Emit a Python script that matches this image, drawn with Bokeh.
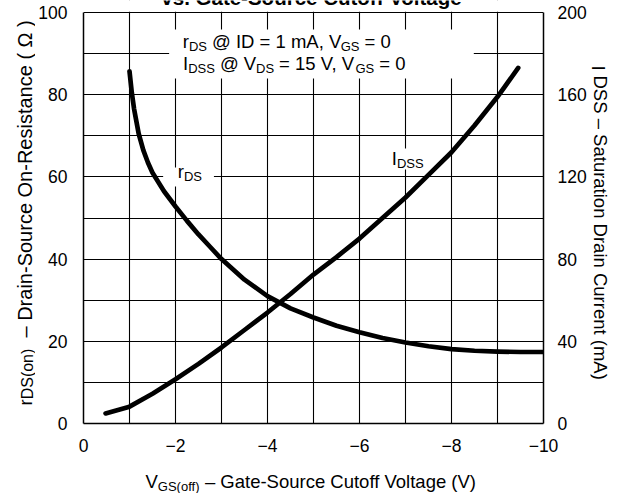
import math
from bokeh.plotting import figure
from bokeh.layouts import column, row
from bokeh.models import Range1d, LinearAxis, FixedTicker, CustomJSTickFormatter, Label
from bokeh.embed import file_html
from bokeh.resources import INLINE

# ---------------- data ----------------
vgs_rds = [-1.0, -1.05, -1.1, -1.2, -1.3, -1.4, -1.5, -1.75, -2.0, -2.25, -2.5, -2.75, -3.0,
           -3.5, -4.0, -4.5, -5.0, -5.5, -6.0, -6.5, -7.0, -7.5, -8.0, -8.5, -9.0, -9.5, -10.0]
rds_ohm = [85.7, 80.5, 76.5, 70.5, 66.5, 63.5, 61.0, 56.5, 52.8, 49.3, 46.0, 43.0, 40.0,
           35.0, 31.0, 28.0, 25.8, 23.8, 22.2, 20.8, 19.7, 18.8, 18.1, 17.7, 17.5, 17.4, 17.4]
vgs_idss = [-0.48, -1.0, -1.5, -2.0, -2.5, -3.0, -3.5, -4.0, -4.5, -5.0, -5.5, -6.0,
            -6.5, -7.0, -7.5, -8.0, -8.5, -9.0, -9.45]
idss_ma = [4.9, 8.2, 14.5, 21.5, 29.0, 37.0, 45.5, 54.0, 63.0, 72.5, 81.0, 90.0,
           100.0, 110.0, 121.0, 132.0, 145.0, 159.0, 173.0]
x_ticks = [0, -2, -4, -6, -8, -10]
x_grid = [0, -1, -2, -3, -4, -5, -6, -7, -8, -9, -10]
y_left_ticks = [0, 20, 40, 60, 80, 100]
y_grid = [0, 10, 20, 30, 40, 50, 60, 70, 80, 90, 100]
y_right_ticks = [0, 40, 80, 120, 160, 200]
Y_MAX, I_MAX = 100, 200

FONT = "Liberation Sans"

# ---------------- geometry (picture pixels) ----------------
OX, OY = 1, 1                      # where the layout starts in the picture
LW, MW, RW = 35, 555, 21           # left strip, main plot, right strip widths
MH, BH = 461, 32                   # main row, bottom strip heights
FL, FR, FT, FB = 82, 544, 13, 424  # plotted area (0..-10, 0..100) in picture pixels
MX, MY = OX + LW, OY               # main canvas origin
TOP = MY                           # frame top (frame reaches the canvas top, for the cut title)
y_end = Y_MAX * (FB - TOP) / (FB - FT)

p = figure(width=MW, height=MH, x_range=Range1d(0, -10), y_range=Range1d(0, y_end),
           output_backend="svg", toolbar_location=None, title=None,
           min_border_left=FL - MX, min_border_right=MX + MW - FR,
           min_border_top=0, min_border_bottom=MY + MH - FB)
p.background_fill_color = "white"
p.border_fill_color = "white"
p.outline_line_color = None

p.extra_y_ranges = {"idss": Range1d(0, I_MAX * y_end / Y_MAX)}
right_axis = LinearAxis(y_range_name="idss")
p.add_layout(right_axis, "right")

p.xaxis.ticker = FixedTicker(ticks=x_ticks)
p.xaxis.formatter = CustomJSTickFormatter(code="return tick == 0 ? '0' : '\\u2212' + Math.abs(tick);")
p.yaxis[0].ticker = FixedTicker(ticks=y_left_ticks)
p.yaxis[0].bounds = (0, Y_MAX)
right_axis.ticker = FixedTicker(ticks=y_right_ticks)
right_axis.bounds = (0, I_MAX)

for ax in [p.xaxis[0], p.yaxis[0], right_axis]:
    ax.axis_line_color = "black"
    ax.axis_line_width = 1.5
    ax.major_tick_line_color = None
    ax.minor_tick_line_color = None
    ax.major_tick_in = 0
    ax.major_tick_out = 0
    ax.minor_tick_in = 0
    ax.minor_tick_out = 0
    ax.major_label_text_font = FONT
    ax.major_label_text_font_size = "17.5px"
    ax.major_label_text_color = "black"
p.xaxis.major_label_standoff = 15
p.yaxis[0].major_label_standoff = 16
right_axis.major_label_standoff = 14

p.xgrid.ticker = FixedTicker(ticks=x_grid)
p.ygrid.ticker = FixedTicker(ticks=y_grid)
for g in [p.xgrid[0], p.ygrid[0]]:
    g.grid_line_color = "black"
    g.grid_line_width = 1.1


def make_strip(w, h, xr, yr):
    f = figure(width=w, height=h, x_range=Range1d(*xr), y_range=Range1d(*yr),
               output_backend="svg", toolbar_location=None, title=None,
               x_axis_location=None, y_axis_location=None, min_border=0)
    f.outline_line_color = None
    f.grid.visible = False
    f.background_fill_color = "white"
    f.border_fill_color = "white"
    return f


# side strips share the main frame's vertical extent (frames are aligned in a row)
left = make_strip(LW, MH, (OX, OX + LW), (FB, TOP))
right = make_strip(RW, MH, (MX + MW, MX + MW + RW), (FB, TOP))
bottom = make_strip(LW + MW + RW, BH, (OX, OX + LW + MW + RW), (MY + MH + BH, MY + MH))

MAPS = {
    "main": (p, lambda px: -(px - FL) / (FR - FL) * 10.0, lambda py: (FB - py) / (FB - FT) * Y_MAX),
    "left": (left, lambda px: px, lambda py: py),
    "right": (right, lambda px: px, lambda py: py),
    "bottom": (bottom, lambda px: px, lambda py: py),
}

AW = {' ': 278, '(': 333, ')': 333, ',': 278, '-': 333, '.': 278, '=': 584, '@': 1015,
      '–': 556, 'Ω': 768, '−': 584}
for ch in "0123456789":
    AW[ch] = 556
AW.update(dict(A=667, B=667, C=722, D=722, E=667, F=611, G=778, H=722, I=278, J=500, K=667,
               L=556, M=833, N=722, O=778, P=667, Q=778, R=722, S=667, T=611, U=722, V=667,
               W=944, X=667, Y=667, Z=611))
AW.update(dict(a=556, b=556, c=500, d=556, e=556, f=278, g=556, h=556, i=222, j=222, k=500,
               l=222, m=833, n=556, o=556, p=556, q=556, r=333, s=500, t=278, u=556, v=500,
               w=722, x=500, y=500, z=500))
K_MID = 0.35   # distance from baseline to the text box centre, in em


def tw(s, size):
    return sum(AW.get(c, 556) for c in s) * size / 1000.0


def put(where, px, py, text, size, angle=0.0, bold=False, align="left"):
    """Place text whose baseline starts at picture pixel (px, py)."""
    fig, fx, fy = MAPS[where]
    ax = px - K_MID * size * math.sin(angle)
    ay = py - K_MID * size * math.cos(angle)
    fig.add_layout(Label(x=fx(ax), y=fy(ay), text=text, angle=angle,
                         text_font=FONT, text_font_size=f"{size}px",
                         text_font_style="bold" if bold else "normal",
                         text_color="black", text_align=align, text_baseline="middle"))


def rich(where, px, py, pieces, angle=0.0):
    c, s = math.cos(angle), math.sin(angle)
    pos = 0.0
    for text, size, shift in pieces:
        lead = len(text) - len(text.lstrip(" "))
        pos += tw(" " * lead, size)
        sx = px + pos * c + shift * s
        sy = py - pos * s + shift * c
        put(where, sx, sy, text.strip(" "), size, angle)
        pos += tw(text.lstrip(" "), size)


def white_box(x0, x1, y0, y1):
    _, fx, fy = MAPS["main"]
    p.quad(left=fx(x0), right=fx(x1), top=fy(y0), bottom=fy(y1),
           fill_color="white", line_color=None)


# ---------------- white areas ----------------
white_box(FL - 2, FR + 2, TOP - 2, FT - 0.8)      # above the plotted area (title zone)
white_box(168, 474, 30, 79)
white_box(162, 213, 168, 187)
white_box(387, 427, 149, 170)

# ---------------- curves ----------------
p.line(vgs_rds, rds_ohm, line_color="black", line_width=4.7, line_cap="round", line_join="round")
p.line(vgs_idss, idss_ma, y_range_name="idss", line_color="black", line_width=4.7,
       line_cap="round", line_join="round")

# ---------------- texts ----------------
BIG, SUB, SH = 18.5, 13, 3.5
rich("main", 181.7, 48, [("r", BIG, 0), ("DS", SUB, SH), (" @ ID = 1 mA, V", BIG, 0),
                         ("GS", SUB, SH), (" = 0", BIG, 0)])
rich("main", 182, 70, [("I", BIG, 0), ("DSS", SUB, SH), (" @ V", BIG, 0), ("DS", SUB, SH),
                       (" = 15 V, V", BIG, 0), ("GS", SUB, SH), (" = 0", BIG, 0)])
rich("main", 176.7, 178.3, [("r", BIG, 0), ("DS", SUB, SH)])
rich("main", 391.7, 165, [("I", BIG, 0), ("DSS", SUB, SH)])

# title, cut off at the top edge as in the reference
put("main", 311, 5.3, "vs. Gate-Source Cutoff Voltage", 20.5, bold=True, align="center")

# x axis title
rich("bottom", 146, 488, [("V", BIG, 0), ("GS(off)", SUB, 4),
                          (" – Gate-Source Cutoff Voltage (V)", BIG, 0)])

# left axis title (reads upward)
rich("left", 32.5, 406, [("r", BIG, 0), ("DS(on)", 16, 1.5)], angle=math.pi / 2)
put("left", 32, 338, "– Drain-Source On-Resistance ( Ω )", 20, angle=math.pi / 2)

# right axis title (reads downward)
put("right", 593, 66, "I", BIG, angle=-math.pi / 2)
put("right", 595, 76, "DSS – Saturation Drain Current (mA)", BIG, angle=-math.pi / 2)

layout = column(row(left, p, right), bottom)
open("out.html", "w").write(file_html(layout, INLINE))
